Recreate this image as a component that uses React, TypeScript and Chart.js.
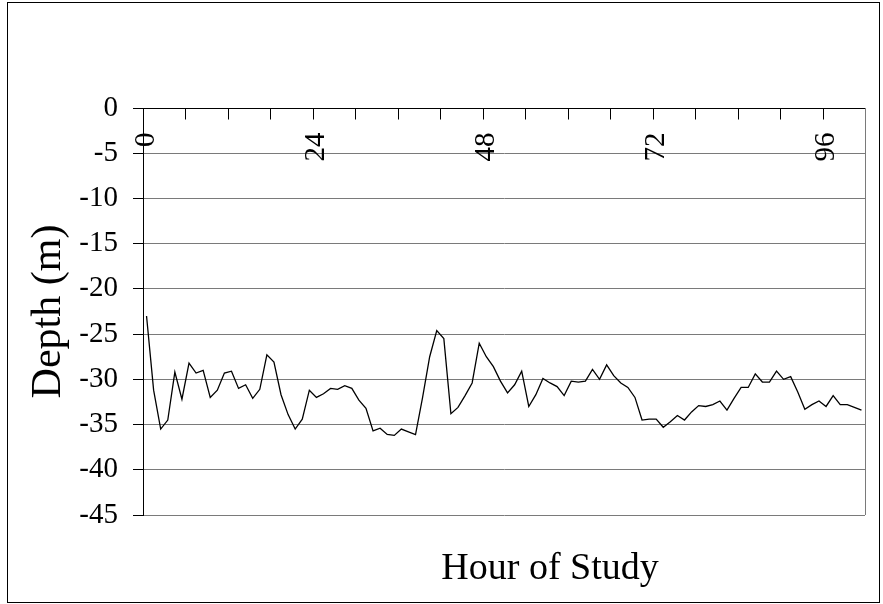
import React, { useEffect, useRef } from "react";
import { Chart, registerables } from "chart.js";

Chart.register(...registerables);

// Hour of study categories (0..101)
const hours: string[] = Array.from({ length: 102 }, (_, i) => String(i));

// Depth (m) per hour
const depth: number[] = [
  -23.0, -31.2, -35.5, -34.5, -29.2, -32.2, -28.2, -29.3, -29.0, -32.0,
  -31.2, -29.3, -29.1, -31.0, -30.6, -32.1, -31.1, -27.3, -28.1, -31.7,
  -33.9, -35.5, -34.4, -31.2, -32.0, -31.6, -31.0, -31.1, -30.7, -31.0,
  -32.3, -33.2, -35.7, -35.4, -36.1, -36.2, -35.5, -35.8, -36.1, -32.0,
  -27.5, -24.6, -25.5, -33.8, -33.1, -31.8, -30.4, -26.0, -27.5, -28.6,
  -30.2, -31.5, -30.6, -29.1, -33.0, -31.7, -29.9, -30.4, -30.8, -31.8,
  -30.2, -30.3, -30.2, -28.9, -30.0, -28.4, -29.6, -30.4, -30.9, -32.0,
  -34.5, -34.4, -34.4, -35.3, -34.7, -34.0, -34.5, -33.6, -32.9, -33.0,
  -32.8, -32.4, -33.4, -32.1, -30.9, -30.9, -29.4, -30.3, -30.3, -29.1,
  -30.0, -29.7, -31.4, -33.3, -32.8, -32.4, -33.0, -31.8, -32.8, -32.8,
  -33.1, -33.4,
];

const xLabelHours: number[] = [0, 24, 48, 72, 96];
const xTickEvery = 6;
const yMin = -45;
const yMax = 0;
const yStep = 5;
const xTitle = "Hour of Study";
const yTitle = "Depth (m)";

const FONT = '"Liberation Serif", "Times New Roman", serif';

const decor = {
  id: "decor",
  afterDraw(chart: any) {
    const { ctx, chartArea: a, scales } = chart;
    const x = scales.x;
    const y = scales.y;
    ctx.save();
    // outer frame
    ctx.strokeStyle = "#000";
    ctx.lineWidth = 1;
    ctx.strokeRect(7.5, 2.5, 872, 600);
    // right plot border (gray)
    ctx.strokeStyle = "#7a7a7a";
    ctx.beginPath();
    ctx.moveTo(Math.round(a.right) + 0.5, a.top);
    ctx.lineTo(Math.round(a.right) + 0.5, a.bottom);
    ctx.stroke();
    // x axis line at depth 0
    const y0 = Math.round(y.getPixelForValue(0)) + 0.5;
    ctx.strokeStyle = "#000";
    ctx.beginPath();
    ctx.moveTo(a.left, y0);
    ctx.lineTo(a.right, y0);
    ctx.stroke();
    // tick marks at category boundaries
    const half = (x.getPixelForValue(1) - x.getPixelForValue(0)) / 2;
    ctx.beginPath();
    for (let i = xTickEvery; i < hours.length; i += xTickEvery) {
      const px = Math.round(x.getPixelForValue(i) - half) + 0.5;
      ctx.moveTo(px, y0);
      ctx.lineTo(px, y0 + 11);
    }
    ctx.stroke();
    // x labels rotated
    ctx.fillStyle = "#000";
    ctx.font = `29px ${FONT}`;
    for (const h of xLabelHours) {
      const px = x.getPixelForValue(h);
      ctx.save();
      ctx.translate(px, y0 + 24);
      ctx.rotate(-Math.PI / 2);
      ctx.textAlign = "right";
      ctx.textBaseline = "middle";
      ctx.fillText(String(h), 0, 0);
      ctx.restore();
    }
    // titles
    ctx.font = `38px ${FONT}`;
    ctx.textAlign = "center";
    ctx.textBaseline = "alphabetic";
    ctx.fillText(xTitle, 550, 579);
    ctx.font = `42px ${FONT}`;
    ctx.save();
    ctx.translate(60, (a.top + a.bottom) / 2);
    ctx.rotate(-Math.PI / 2);
    ctx.fillText(yTitle, 0, 0);
    ctx.restore();
    ctx.restore();
  },
};

export default function App() {
  const ref = useRef<HTMLCanvasElement | null>(null);
  useEffect(() => {
    if (!ref.current) return;
    const chart = new Chart(ref.current, {
      type: "line",
      data: {
        labels: hours,
        datasets: [
          {
            data: depth,
            borderColor: "#000",
            borderWidth: 1.3,
            pointRadius: 0,
            tension: 0,
            fill: false,
          },
        ],
      },
      options: {
        animation: false,
        responsive: false,
        events: [],
        layout: { padding: { top: 108, right: 18, bottom: 89, left: 0 } },
        plugins: { legend: { display: false }, tooltip: { enabled: false } },
        scales: {
          x: { type: "category", offset: true, display: false },
          y: {
            min: yMin,
            max: yMax,
            afterFit: (s: any) => {
              s.width = 143;
            },
            ticks: {
              stepSize: yStep,
              color: "#000",
              padding: 15,
              font: { family: FONT, size: 29 },
            },
            grid: {
              color: "#7a7a7a",
              tickColor: "#000",
              tickLength: 10,
              lineWidth: 1,
            },
            border: { color: "#000", width: 1 },
          },
        },
      },
      plugins: [decor],
    });
    return () => chart.destroy();
  }, []);
  return (
    <div style={{ position: "absolute", left: 0, top: 0, width: 883, height: 604, background: "#fff" }}>
      <canvas ref={ref} width={883} height={604} />
    </div>
  );
}
